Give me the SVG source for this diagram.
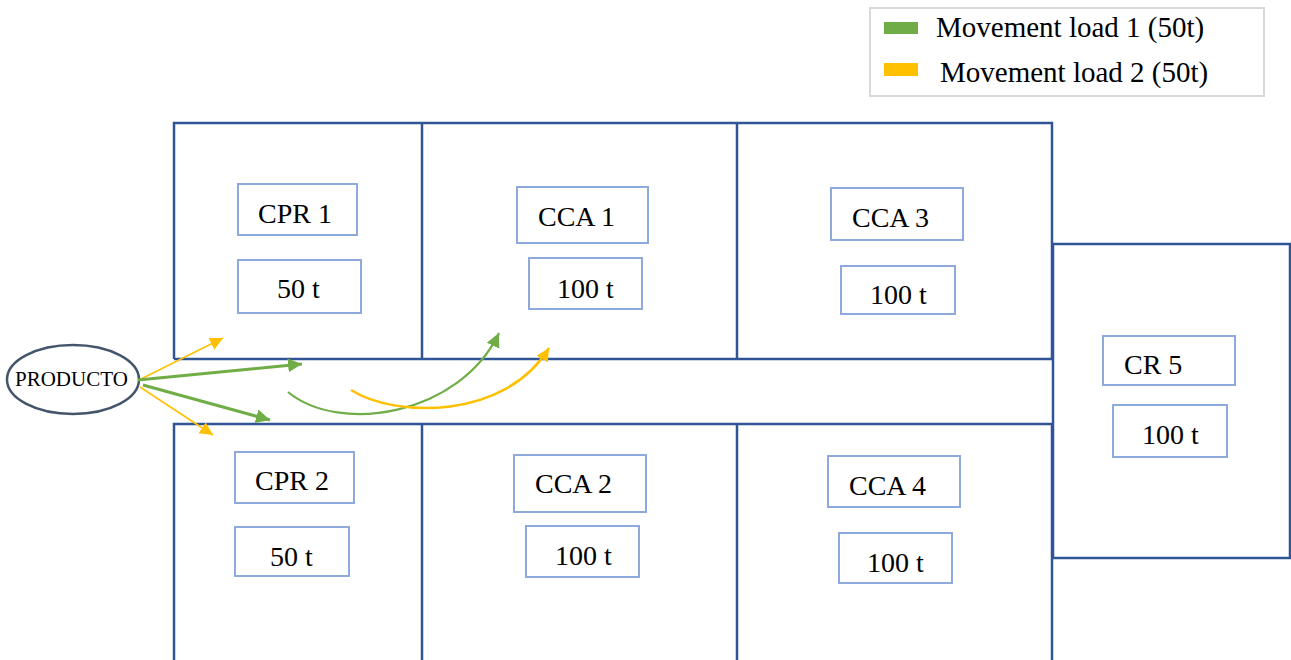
<svg xmlns="http://www.w3.org/2000/svg" width="1291" height="660" viewBox="0 0 1291 660">
<style>
.room{fill:none;stroke:#2F5597;stroke-width:2.5}
.lbl{fill:#fff;stroke:#8EA9DB;stroke-width:2}
.t{font-family:"Liberation Serif","Times New Roman",serif;font-size:28px;fill:#000}
.lg{font-family:"Liberation Serif","Times New Roman",serif;font-size:29px;fill:#000}
.g{fill:none;stroke:#70AD47}
.y{fill:none;stroke:#FFC000}
</style>
<defs>
<marker id="ag" markerUnits="userSpaceOnUse" markerWidth="16" markerHeight="16" refX="14" refY="7" orient="auto"><path d="M0,0 L14,7 L0,14 z" fill="#70AD47"/></marker>
<marker id="ay" markerUnits="userSpaceOnUse" markerWidth="14" markerHeight="14" refX="13" refY="6.5" orient="auto"><path d="M0,0 L13,6.5 L0,13 z" fill="#FFC000"/></marker>
</defs>
<rect width="1291" height="660" fill="#fff"/>

<g id="legend">
<rect x="870" y="8" width="394" height="88" fill="#fff" stroke="#D9D9D9" stroke-width="2"/>
<rect x="884" y="22" width="34" height="12" fill="#70AD47"/>
<rect x="884" y="63" width="34" height="13" fill="#FFC000"/>
<text class="lg" x="936" y="37">Movement load 1 (50t)</text>
<text class="lg" x="940" y="82">Movement load 2 (50t)</text>
</g>

<g id="walls">
<path class="room" d="M174,359 V123 H1052 V359 H174 M422,123 V359 M737,123 V359"/>
<path class="room" d="M174,660 V424 H1052 V660 M422,424 V660 M737,424 V660"/>
</g>

<g id="cpr1">
<rect class="lbl" x="238" y="184" width="119" height="51"/>
<text class="t" x="258" y="223">CPR 1</text>
<rect class="lbl" x="238" y="260" width="123" height="53"/>
<text class="t" x="277" y="298">50 t</text>
</g>
<g id="cca1">
<rect class="lbl" x="517" y="187" width="131" height="56"/>
<text class="t" x="538" y="226">CCA 1</text>
<rect class="lbl" x="529" y="258" width="113" height="51"/>
<text class="t" x="557" y="298">100 t</text>
</g>
<g id="cca3">
<rect class="lbl" x="831" y="188" width="132" height="52"/>
<text class="t" x="852" y="227">CCA 3</text>
<rect class="lbl" x="841" y="266" width="114" height="48"/>
<text class="t" x="870" y="304">100 t</text>
</g>
<g id="cpr2">
<rect class="lbl" x="235" y="452" width="119" height="51"/>
<text class="t" x="255" y="490">CPR 2</text>
<rect class="lbl" x="235" y="527" width="114" height="49"/>
<text class="t" x="270" y="566">50 t</text>
</g>
<g id="cca2">
<rect class="lbl" x="514" y="455" width="132" height="57"/>
<text class="t" x="535" y="493">CCA 2</text>
<rect class="lbl" x="526" y="526" width="113" height="51"/>
<text class="t" x="555" y="565">100 t</text>
</g>
<g id="cca4">
<rect class="lbl" x="828" y="456" width="132" height="51"/>
<text class="t" x="849" y="495">CCA 4</text>
<rect class="lbl" x="839" y="533" width="113" height="50"/>
<text class="t" x="867" y="572">100 t</text>
</g>
<g id="cr5">
<rect class="room" x="1053" y="244" width="237" height="314" fill="#fff"/>
<rect class="lbl" x="1103" y="336" width="132" height="49"/>
<text class="t" x="1124" y="374">CR 5</text>
<rect class="lbl" x="1113" y="405" width="114" height="52"/>
<text class="t" x="1142" y="444">100 t</text>
</g>

<g id="producto">
<ellipse cx="73" cy="379.5" rx="66" ry="34.5" fill="#fff" stroke="#44546A" stroke-width="2.5"/>
<text x="15" y="386" style="font-family:'Liberation Serif','Times New Roman',serif;font-size:21px;fill:#000">PRODUCTO</text>
</g>

<g id="connectors">
<path class="y" stroke-width="1.5" d="M137,381 L223,338" marker-end="url(#ay)"/>
<path class="y" stroke-width="1.5" d="M140,387 L213,435" marker-end="url(#ay)"/>
<path class="g" stroke-width="3" d="M138,380 L302,364" marker-end="url(#ag)"/>
<path class="g" stroke-width="3" d="M143,385 L270,420" marker-end="url(#ag)"/>
<path class="g" stroke-width="2.2" d="M288,392 C340,435 460,415 499,333" marker-end="url(#ag)"/>
<path class="y" stroke-width="2.5" d="M351,390 C395,418 505,420 549,348" marker-end="url(#ay)"/>
</g>
</svg>
